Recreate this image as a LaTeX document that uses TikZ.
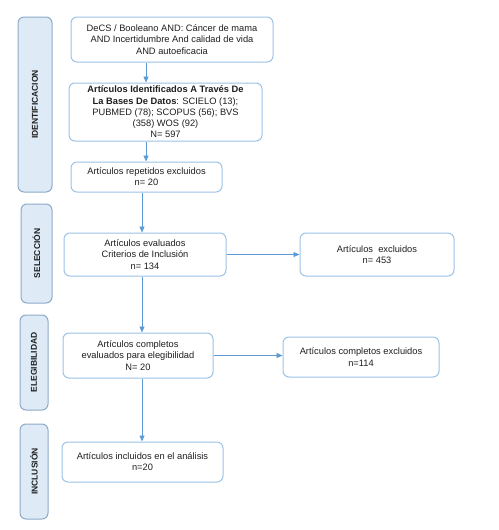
\documentclass[tikz,border=0pt]{standalone}
\usepackage{fontspec}
\setmainfont{Liberation Sans}
\usetikzlibrary{arrows.meta}
\definecolor{boxline}{HTML}{9DC3E6}
\definecolor{arrline}{HTML}{5B9BD5}
\definecolor{sidefill}{HTML}{DEEBF7}
\definecolor{sideline}{HTML}{8EA9C8}
\definecolor{txt}{HTML}{1F1F1F}
\begin{document}
\begin{tikzpicture}[x=1pt,y=-1pt,
  box/.style={draw=boxline,line width=1pt,rounded corners=6pt,fill=white,inner sep=0pt,align=center,text=txt,font=\fontsize{9.3}{11.2}\selectfont},
  side/.style={draw=sideline,line width=1pt,rounded corners=6pt,fill=sidefill,inner sep=0pt,rotate=90,text=txt,font=\fontsize{8.5}{9}\selectfont\bfseries},
  arr/.style={draw=arrline,line width=0.9pt,-{Triangle[length=6pt,width=5pt]}}]
\useasboundingbox (0,0) rectangle (498,530);
% side labels
\node[side,minimum width=175pt,minimum height=34pt] (s1) at (35,104.5) {IDENTIFICACION};
\node[side,minimum width=99pt,minimum height=31pt] (s2) at (36.5,253.5) {SELECCIÓN};
\node[side,minimum width=95pt,minimum height=28pt] (s3) at (34,362.5) {ELEGIBILIDAD};
\node[side,minimum width=95pt,minimum height=28pt] (s4) at (34,471.5) {INCLUSIÓN};
% boxes
\node[box,minimum width=202pt,minimum height=45pt] (b1) at (172,39.5) {DeCS / Booleano AND: Cáncer de mama\\AND Incertidumbre And calidad de vida\\AND autoeficacia};
\node[box,minimum width=193pt,minimum height=58pt] (b2) at (165.5,112) {\textbf{Artículos Identificados A Través De}\\\textbf{La Bases De Datos}: SCIELO (13);\\PUBMED (78); SCOPUS (56); BVS\\(358) WOS (92)\\N= 597};
\node[box,minimum width=151pt,minimum height=30pt] (b3) at (146.5,177) {Artículos repetidos excluidos\\n= 20};
\node[box,minimum width=162pt,minimum height=43pt] (b4) at (145,254.5) {Artículos evaluados\\Criterios de Inclusión\\n= 134};
\node[box,minimum width=154pt,minimum height=43pt] (b5) at (377,254.5) {Artículos~~excluidos\\n= 453};
\node[box,minimum width=150pt,minimum height=45pt] (b6) at (138,355.5) {Artículos completos\\evaluados para elegibilidad\\N= 20};
\node[box,minimum width=156pt,minimum height=40pt] (b7) at (361,357) {Artículos completos excluidos\\n=114};
\node[box,minimum width=161pt,minimum height=40pt] (b8) at (142.5,462) {Artículos incluidos en el análisis\\n=20};
% columns for vertical connectors
\coordinate (c1) at (146,0);
\coordinate (c2) at (142,0);
% connectors
\draw[arr] (b1.south -| c1) -- (b2.north -| c1);
\draw[arr] (b2.south -| c1) -- (b3.north -| c1);
\draw[arr] (b3.south -| c2) -- (b4.north -| c2);
\draw[arr] (b4.east) -- (b5.west);
\draw[arr] (b4.south -| c2) -- (b6.north -| c2);
\draw[arr] (b6.east) -- (b7.west |- b6.east);
\draw[arr] (b6.south -| c2) -- (b8.north -| c2);
\end{tikzpicture}
\end{document}
